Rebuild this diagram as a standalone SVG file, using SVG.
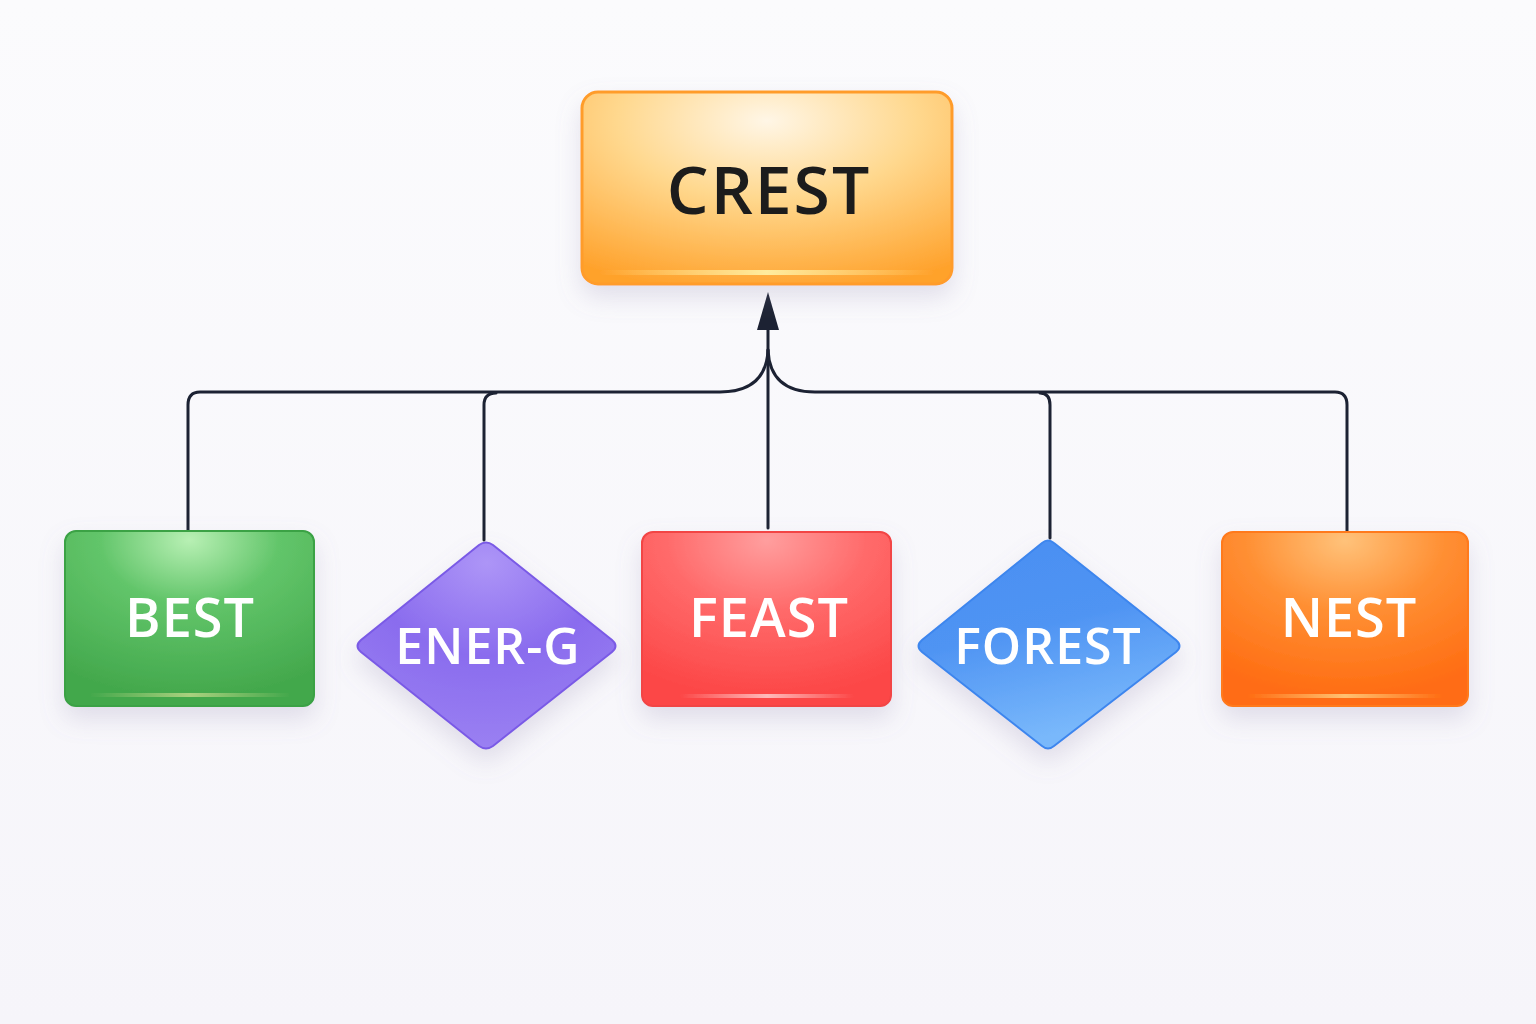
<svg xmlns="http://www.w3.org/2000/svg" width="1536" height="1024" viewBox="0 0 1536 1024">
<defs>
<style>
.lbl{font-family:"Open Sans","Liberation Sans",sans-serif;font-weight:600;fill:#fff;text-anchor:middle;dominant-baseline:central;letter-spacing:1px}
.conn{fill:none;stroke:#1c2233;stroke-width:3;stroke-linecap:round;stroke-linejoin:round}
</style>
<linearGradient id="bg" x1="0" y1="0" x2="0" y2="1"><stop offset="0" stop-color="#fbfbfd"/><stop offset="1" stop-color="#f6f5fa"/></linearGradient>
<radialGradient id="gCrest" cx="0.5" cy="0.15" r="0.9"><stop offset="0" stop-color="#fff6e6"/><stop offset="0.45" stop-color="#ffd88e"/><stop offset="1" stop-color="#ffa22c"/></radialGradient>
<linearGradient id="glow" x1="0" y1="0" x2="1" y2="0"><stop offset="0" stop-color="#fff0a0" stop-opacity="0"/><stop offset="0.5" stop-color="#fff3a8" stop-opacity="0.9"/><stop offset="1" stop-color="#fff0a0" stop-opacity="0"/></linearGradient>
<linearGradient id="glowR" x1="0" y1="0" x2="1" y2="0"><stop offset="0" stop-color="#ffd6d6" stop-opacity="0"/><stop offset="0.5" stop-color="#ffd6d6" stop-opacity="0.8"/><stop offset="1" stop-color="#ffd6d6" stop-opacity="0"/></linearGradient>
<radialGradient id="gGreen" cx="0.5" cy="0.05" r="0.9"><stop offset="0" stop-color="#b8f0b4"/><stop offset="0.4" stop-color="#62c56a"/><stop offset="1" stop-color="#43a84c"/></radialGradient>
<radialGradient id="gPurple" cx="0.5" cy="0.1" r="0.9"><stop offset="0" stop-color="#ad95f7"/><stop offset="0.5" stop-color="#8a6cee"/><stop offset="1" stop-color="#9a80f2"/></radialGradient>
<radialGradient id="gRed" cx="0.5" cy="0.05" r="0.9"><stop offset="0" stop-color="#ff9e9e"/><stop offset="0.45" stop-color="#ff6a6a"/><stop offset="1" stop-color="#fc4747"/></radialGradient>
<linearGradient id="gBlue" x1="0" y1="0" x2="0.3" y2="1"><stop offset="0" stop-color="#4a8ef2"/><stop offset="0.5" stop-color="#4f94f3"/><stop offset="1" stop-color="#79b8fb"/></linearGradient>
<radialGradient id="gOrange" cx="0.5" cy="0.05" r="0.9"><stop offset="0" stop-color="#ffc27a"/><stop offset="0.45" stop-color="#ff8f33"/><stop offset="1" stop-color="#ff6c12"/></radialGradient>
<filter id="sh" x="-30%" y="-30%" width="160%" height="170%"><feDropShadow dx="0" dy="12" stdDeviation="12" flood-color="#8a7fa8" flood-opacity="0.22"/></filter>
</defs>
<rect width="1536" height="1024" fill="url(#bg)"/>

<g id="connectors">
<path class="conn" d="M768 528 V300"/>
<path d="M768 292 L779 330 L757 330 Z" fill="#1c2233"/>
<path class="conn" d="M768 350 Q766 392 720 392 H200 Q188 392 188 405 V530"/>
<path class="conn" d="M496 393 Q484 393 484 405 V540"/>
<path class="conn" d="M768 350 Q770 392 815 392 H1335 Q1347 392 1347 405 V531"/>
<path class="conn" d="M1040 393 Q1050 393 1050 405 V538"/>
</g>

<g id="crest" filter="url(#sh)">
<rect x="582" y="92" width="370" height="192" rx="16" fill="url(#gCrest)" stroke="#ff9c2a" stroke-width="3"/>
<rect x="600" y="270" width="334" height="5" rx="2.5" fill="url(#glow)"/>
<text x="769" y="188" font-family="'Open Sans','Liberation Sans',sans-serif" font-weight="600" font-size="66" letter-spacing="2" fill="#1c1c1c" text-anchor="middle" dominant-baseline="central">CREST</text>
</g>

<g id="best" filter="url(#sh)">
<rect x="65" y="531" width="249" height="175" rx="11" fill="url(#gGreen)" stroke="#3aa244" stroke-width="2"/>
<rect x="90" y="693" width="200" height="4" rx="2" fill="url(#glow)" opacity="0.6"/>
<text class="lbl" x="190" y="616" font-size="54">BEST</text>
</g>

<g id="energ" filter="url(#sh)">
<path d="M479 545 Q486 540 493 545 L612 640 Q619 646 612 652 L493 746 Q486 751 479 746 L361 652 Q354 646 361 640 Z" fill="url(#gPurple)" stroke="#7a5ae6" stroke-width="2"/>
<text class="lbl" x="488" y="645" font-size="50">ENER-G</text>
</g>

<g id="feast" filter="url(#sh)">
<rect x="642" y="532" width="249" height="174" rx="11" fill="url(#gRed)" stroke="#f24444" stroke-width="2"/>
<rect x="680" y="694" width="174" height="4" rx="2" fill="url(#glowR)"/>
<text class="lbl" x="769" y="616" font-size="54">FEAST</text>
</g>

<g id="forest" filter="url(#sh)">
<path d="M1042 543 Q1048 538 1054 543 L1176 640 Q1183 646 1176 652 L1054 746 Q1048 751 1042 746 L922 652 Q915 646 922 640 Z" fill="url(#gBlue)" stroke="#3d86ee" stroke-width="2"/>
<text class="lbl" x="1048" y="645" font-size="50">FOREST</text>
</g>

<g id="nest" filter="url(#sh)">
<rect x="1222" y="532" width="246" height="174" rx="11" fill="url(#gOrange)" stroke="#ff7a1a" stroke-width="2"/>
<rect x="1247" y="694" width="196" height="4" rx="2" fill="url(#glow)" opacity="0.7"/>
<text class="lbl" x="1349" y="616" font-size="54">NEST</text>
</g>
</svg>
